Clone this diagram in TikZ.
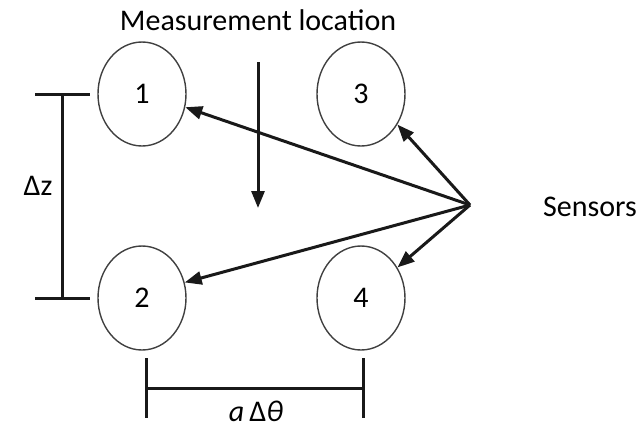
\documentclass[tikz,border=0pt]{standalone}
\usepackage{fontspec}
\setmainfont{Carlito}
\usetikzlibrary{arrows.meta,shapes.geometric}
\begin{document}
\begin{tikzpicture}[x=1pt,y=-1pt,
  sensor/.style={draw=black!75,line width=1.4pt,ellipse,minimum width=88pt,minimum height=104pt,inner sep=0pt,font=\fontsize{30}{34}\selectfont},
  lbl/.style={font=\fontsize{30}{34}\selectfont,inner sep=0pt},
  dim/.style={line width=3pt,black!90},
  arr/.style={line width=3pt,black!90,-{Triangle[length=17pt,width=13pt]}}]
\useasboundingbox (0,0) rectangle (641,432);
\node[sensor] (s1) at (142,94) {1};
\node[sensor] (s3) at (361,94) {3};
\node[sensor] (s2) at (142,298) {2};
\node[sensor] (s4) at (361,298) {4};
\node[lbl] (meas) at (258,20) {Measurement location};
\coordinate (mtop) at (258,62);
\coordinate (mbot) at (258,208);
\draw[arr] (mtop) -- (mbot);
\coordinate (src) at (470,205);
\node[lbl,anchor=west] (sens) at (543,207) {Sensors};
\draw[arr] (src) -- (s1.-17);
\draw[arr] (src) -- (s3.-40);
\draw[arr] (src) -- (s2.20);
\draw[arr] (src) -- (s4.40);
% dz bracket
\coordinate (zt1) at (35,94); \coordinate (zt2) at (90,94);
\coordinate (zb1) at (35,298); \coordinate (zb2) at (90,298);
\coordinate (zv1) at (62,94); \coordinate (zv2) at (62,298);
\draw[dim] (zt1) -- (zt2);
\draw[dim] (zb1) -- (zb2);
\draw[dim] (zv1) -- (zv2);
\node[lbl] (dz) at (38,186) {Δz};
% a dtheta bracket
\coordinate (ht1) at (146,358); \coordinate (ht2) at (146,418);
\coordinate (hs1) at (363,358); \coordinate (hs2) at (363,418);
\coordinate (hm1) at (146,388); \coordinate (hm2) at (363,388);
\draw[dim] (ht1) -- (ht2);
\draw[dim] (hs1) -- (hs2);
\draw[dim] (hm1) -- (hm2);
\node[lbl] (adt) at (256,411) {\textit{a}\,Δ\textit{θ}};
\end{tikzpicture}
\end{document}
